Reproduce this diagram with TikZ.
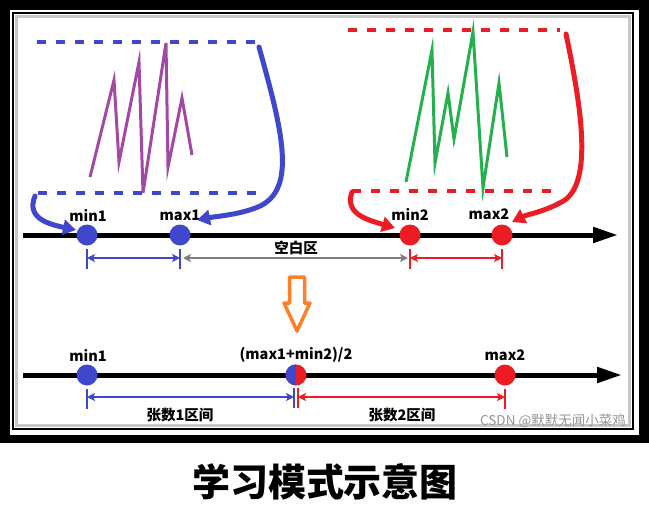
\documentclass[tikz,border=0pt]{standalone}
\usepackage{fontspec}
\setmainfont{Noto Sans CJK SC}
\usetikzlibrary{arrows.meta}
\definecolor{pblue}{HTML}{3F48CC}
\definecolor{pred}{HTML}{ED1C24}
\definecolor{pgray}{HTML}{7F7F7F}
\definecolor{porange}{HTML}{FF7F27}
\definecolor{pgreen}{HTML}{22B14C}
\definecolor{ppurple}{HTML}{A349A4}
\tikzset{
  dotnode/.style={circle, minimum size=21pt, inner sep=0pt, draw=none},
  lbl/.style={font=\bfseries\fontsize{14.5}{16}\selectfont, inner sep=0pt},
  zhlbl/.style={font=\bfseries\fontsize{14.5}{16}\selectfont, inner sep=0pt},
  axisline/.style={line width=5pt, -{Triangle[length=25pt,width=15pt]}},
  dashline/.style={line width=3.5pt, dash pattern=on 9pt off 10pt},
  bigcurve/.style={line width=5pt, line cap=round, -{Triangle[length=13pt,width=15pt]}},
  tick/.style={line width=2.5pt},
  ivarrow/.style={line width=2.5pt, {Stealth[length=8pt,width=8pt,inset=2pt]}-{Stealth[length=8pt,width=8pt,inset=2pt]}},
  wave/.style={line width=3pt, line join=miter},
}
\begin{document}
\begin{tikzpicture}[x=1pt,y=-1pt]
\useasboundingbox (0,0) rectangle (649,528);
% frame
\fill[black] (0,0) rectangle (649,443);
\fill[white] (10,10) rectangle (639,435);
\draw[line width=2pt] (13,13) rectangle (633,429);
\draw[black!22, line width=3pt] (16.5,16.5) rectangle (629.5,425.5);

% ---------- top row ----------
\coordinate (ax1s) at (23,235);
\coordinate (ax1e) at (618,235);
\draw[axisline] (ax1s) -- (ax1e);
\node[dotnode, fill=pblue] (min1) at (87,235) {};
\node[dotnode, fill=pblue] (max1) at (180,235) {};
\node[dotnode, fill=pred] (min2) at (410,235) {};
\node[dotnode, fill=pred] (max2) at (502,235) {};
\node[lbl] (lmin1) at (88,215) {min1};
\node[lbl] (lmax1) at (180,215) {max1};
\node[lbl] (lmin2) at (410,214) {min2};
\node[lbl] (lmax2) at (489,214) {max2};

% ticks row 1
\foreach \n/\c in {min1/pblue, max1/pblue, min2/pred, max2/pred}{
  \draw[tick, \c] ([yshift=-3pt]\n.south) -- ([yshift=-23pt]\n.south);
}
\coordinate (r1) at (0,258);
\draw[ivarrow, pblue] (min1 |- r1) -- (max1 |- r1);
\draw[ivarrow, pgray, shorten <=3pt, shorten >=2pt] (max1 |- r1) -- (min2 |- r1);
\draw[ivarrow, pred] (min2 |- r1) -- (max2 |- r1);
\node[zhlbl] (blank) at (296,248) {空白区};

% blue waveform group
\draw[dashline, pblue] (37,42) coordinate (btl) -- (256,42) coordinate (btr);
\draw[dashline, pblue] (38,193) coordinate (bbl) -- (266,193) coordinate (bbr);
\draw[wave, ppurple] (90,177) -- (114,80) -- (119,162) -- (139,62) -- (143,193) -- (166,43) -- (168,167) -- (182,98) -- (192,155);
\coordinate (bbs) at (259,47);
\coordinate (bbt) at (197,220);
\draw[bigcurve, pblue] (bbs) .. controls (282,130) and (298,190) .. (258,207) .. controls (238,215) and (218,216) .. (bbt);
\coordinate (bss) at (35,196);
\coordinate (bst) at (76,230);
\draw[bigcurve, pblue] (bss) .. controls (26,218) and (48,224) .. (bst);

% red waveform group
\draw[dashline, pred] (348,30) coordinate (rtl) -- (560,30) coordinate (rtr);
\draw[dashline, pred] (352,191) coordinate (rbl) -- (552,191) coordinate (rbr);
\draw[wave, pgreen] (406,182) -- (432,50) -- (435,163) -- (448,93) -- (454,139) -- (473,32) -- (483,188) -- (499,83) -- (507,157);
\coordinate (rbs) at (566,34);
\coordinate (rbt) at (512,222);
\draw[bigcurve, pred] (rbs) .. controls (582,110) and (592,180) .. (565,200) .. controls (545,212) and (528,214) .. (rbt);
\coordinate (rss) at (352,192);
\coordinate (rst) at (395,228);
\draw[bigcurve, pred] (rss) .. controls (344,214) and (368,220) .. (rst);

% orange hollow arrow
\draw[porange, fill=white, line width=3.5pt, line join=round] (289.5,277) -- (304.5,277) -- (304.5,303) -- (310,303) -- (297,331) -- (284,303) -- (289.5,303) -- cycle;

% ---------- bottom row ----------
\coordinate (ax2s) at (23,375);
\coordinate (ax2e) at (622,375);
\draw[axisline] (ax2s) -- (ax2e);
\node[dotnode, fill=pblue] (bmin1) at (87,375) {};
\node[dotnode, fill=pred] (mid) at (296,375) {};
\fill[pblue] (mid.north) arc[start angle=90, end angle=270, radius=10.5pt] -- cycle;
\node[dotnode, fill=pred] (bmax2) at (505,375) {};
\node[lbl] (lbmin1) at (88,355) {min1};
\node[lbl] (lmid) at (296,355) {(max1+min2)/2};
\node[lbl] (lbmax2) at (505,355) {max2};

\coordinate (r2) at (0,397);
\coordinate (tb1) at (294,375);
\coordinate (tr1) at (298,375);
\draw[tick, pblue] ([yshift=-3pt]bmin1.south) -- ([yshift=-23pt]bmin1.south);
\draw[tick, pred] ([yshift=-3pt]bmax2.south) -- ([yshift=-23pt]bmax2.south);
\draw[tick, pblue] (294,388) -- (294,408);
\draw[tick, pred] (298,388) -- (298,408);
\draw[ivarrow, pblue] (bmin1 |- r2) -- (tb1 |- r2);
\draw[ivarrow, pred] (tr1 |- r2) -- (bmax2 |- r2);
\node[zhlbl] (int1) at (180,415) {张数1区间};
\node[zhlbl] (int2) at (402,415) {张数2区间};
\node[font=\fontsize{13.5}{15}\selectfont, text=black!42, inner sep=0pt] (wm) at (553,421) {CSDN @默默无闻小菜鸡};

% title
\node[font=\bfseries\fontsize{38}{40}\selectfont, inner sep=0pt] (title) at (325,482) {学习模式示意图};
\end{tikzpicture}
\end{document}
